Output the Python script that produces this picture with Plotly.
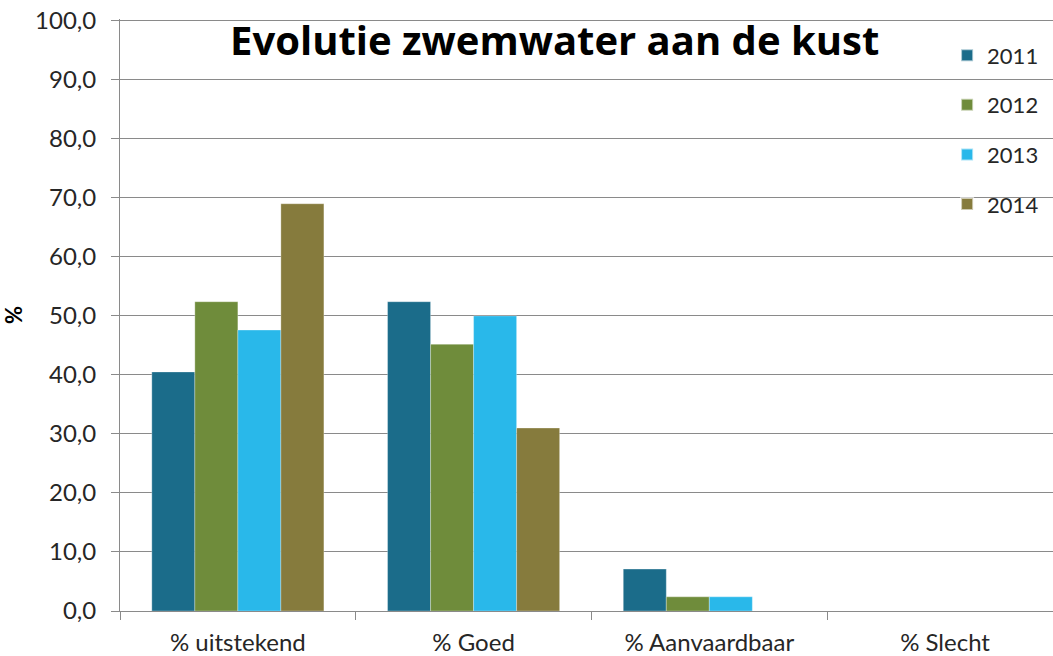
import plotly.graph_objects as go

categories = ["% uitstekend", "% Goed", "% Aanvaardbaar", "% Slecht"]
years = ["2011", "2012", "2013", "2014"]
v2011 = [40.5, 52.4, 7.1, 0.0]
v2012 = [52.4, 45.2, 2.4, 0.0]
v2013 = [47.6, 50.0, 2.4, 0.0]
v2014 = [69.0, 31.0, 0.0, 0.0]
colors = ["#1b6c8a", "#6f8c3b", "#29b8ea", "#867b3d"]
y_ticks = [0, 10, 20, 30, 40, 50, 60, 70, 80, 90, 100]

FONT = "Lato, Carlito, Calibri, sans-serif"
TITLE_FONT = "Open Sans, Lato, sans-serif"

fig = go.Figure()
for name, vals, col in zip(years, [v2011, v2012, v2013, v2014], colors):
    fig.add_trace(go.Bar(
        x=categories, y=vals, name=name, legendgroup=name,
        marker=dict(color=col, line=dict(color="rgba(255,255,255,0.6)", width=0.5)),
    ))

fig.update_layout(
    width=1053, height=656,
    margin=dict(l=120, r=0, t=19, b=45, autoexpand=False),
    paper_bgcolor="white", plot_bgcolor="white",
    separators=",.",
    barmode="group", bargap=0.27, bargroupgap=0,
    font=dict(family=FONT, size=22, color="#262626"),
    showlegend=True,
    legend=dict(
        x=0.8865, xanchor="left", y=0.974, yanchor="top",
        bgcolor="rgba(0,0,0,0)", font=dict(family=FONT, size=22, color="#262626"),
        tracegroupgap=18, itemsizing="constant",
    ),
    annotations=[dict(
        text="<b>Evolutie zwemwater aan de kust</b>",
        xref="paper", yref="paper", x=0.466, y=0.965,
        xanchor="center", yanchor="middle", showarrow=False,
        font=dict(family=TITLE_FONT, size=40, color="black"),
    )],
)

fig.update_xaxes(
    type="category", range=[-0.5, 3.458], automargin=False,
    showgrid=False, showline=True, linecolor="#8a8a8a", linewidth=1,
    ticks="outside", tickson="boundaries", ticklen=8, tickcolor="#8a8a8a",
    tickfont=dict(family=FONT, size=24, color="#262626"),
    ticklabelstandoff=10, ticklabeloverflow="allow",
)
fig.update_yaxes(
    range=[0, 100.3], tickvals=y_ticks, tickformat=".1f", automargin=False,
    showgrid=True, gridcolor="#8a8a8a", gridwidth=1,
    showline=True, linecolor="#8a8a8a", linewidth=1,
    ticks="outside", ticklen=8, tickcolor="#8a8a8a",
    tickfont=dict(family=FONT, size=24, color="#262626"),
    ticklabelstandoff=10, ticklabeloverflow="allow",
    zeroline=False,
    title=dict(text="<b>%</b>", font=dict(family=FONT, size=22, color="black"), standoff=9),
)

# remove the browser's default 8px page margin so the figure sits at the top-left corner
fig.write_html(
    "out.html",
    config={"displayModeBar": False},
    post_script="document.body.style.margin='0';",
)
